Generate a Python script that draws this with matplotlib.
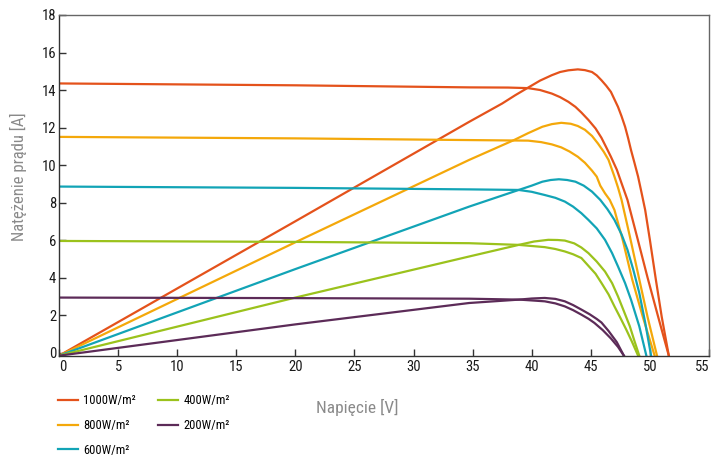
import matplotlib
matplotlib.use("Agg")
import matplotlib.pyplot as plt

plt.rcParams['font.family'] = ['Roboto Condensed', 'Liberation Sans Narrow', 'DejaVu Sans']
plt.rcParams['font.stretch'] = 'condensed'

# irradiance levels and their colours
labels = ["1000W/m²", "800W/m²", "600W/m²", "400W/m²", "200W/m²"]
colors = ["#E4521B", "#F4A80A", "#12A4B6", "#9BC21C", "#5C2B58"]

# current-voltage curves (V, A)
iv_v_1000 = [0, 20, 34.7, 38.0, 39.7, 40.7, 41.7, 42.4, 43.1, 43.7, 44.2, 44.8, 45.4, 45.9, 46.3, 46.7,
             47.2, 47.6, 48.1, 48.9, 49.8, 50.7, 51.6]
iv_i_1000 = [14.35, 14.25, 14.14, 14.13, 14.1, 14.0, 13.81, 13.62, 13.37, 13.1, 12.8, 12.4, 11.95, 11.45,
             10.95, 10.44, 9.75, 9.03, 8.14, 6.2, 4.0, 1.9, -0.17]
iv_v_800 = [0, 20, 34.7, 39.7, 40.8, 41.7, 42.5, 43.2, 43.9, 44.5, 45.1, 45.5, 45.8, 46.2, 46.6, 47.0,
            47.7, 48.5, 49.4, 50.4]
iv_i_800 = [11.5, 11.42, 11.33, 11.3, 11.22, 11.1, 10.94, 10.72, 10.44, 10.12, 9.7, 9.38, 8.9, 8.49, 8.14,
            7.6, 6.0, 3.9, 1.9, -0.17]
iv_v_600 = [0, 20, 34.7, 38.9, 40.0, 41.1, 42.0, 42.8, 43.5, 44.2, 44.8, 45.5, 46.2, 46.8, 47.3, 47.9,
            48.4, 49.1, 49.7]
iv_i_600 = [8.85, 8.78, 8.7, 8.67, 8.57, 8.4, 8.25, 8.05, 7.78, 7.43, 7.07, 6.62, 6.01, 5.3, 4.59, 3.7,
            2.82, 1.4, -0.17]
iv_v_400 = [0, 20, 34.7, 38.9, 41.1, 42.0, 42.8, 43.5, 44.2, 44.8, 45.4, 45.9, 46.5, 47.0, 47.5, 48.0,
            48.5, 49.0]
iv_i_400 = [5.95, 5.9, 5.83, 5.74, 5.62, 5.52, 5.39, 5.24, 5.04, 4.62, 4.2, 3.71, 3.1, 2.46, 1.85, 1.22,
            0.55, -0.17]
iv_v_200 = [0, 20, 34.7, 39.0, 41.1, 42.0, 42.8, 43.5, 44.2, 44.8, 45.3, 46.0, 46.7, 47.3, 47.8]
iv_i_200 = [2.93, 2.9, 2.87, 2.82, 2.73, 2.62, 2.46, 2.26, 2.02, 1.8, 1.58, 1.2, 0.75, 0.3, -0.17]

# power curves drawn on the same scale
pv_v_1000 = [0, 20, 34.7, 37.5, 38.6, 39.7, 40.7, 41.7, 42.4, 43.1, 43.9, 44.5, 45.1, 45.5, 45.9, 46.3,
             46.7, 47.0, 47.3, 47.6, 47.9, 48.15, 48.4, 48.7, 49.0, 49.3, 49.6, 50.0, 50.5, 51.0, 51.6]
pv_p_1000 = [-0.17, 7.0, 12.3, 13.28, 13.72, 14.13, 14.5, 14.79, 14.96, 15.05, 15.1, 15.06, 14.96, 14.78,
             14.52, 14.23, 13.9, 13.5, 13.1, 12.6, 12.04, 11.45, 10.8, 10.1, 9.38, 8.5, 7.6, 6.0, 3.9,
             1.9, -0.17]
pv_v_800 = [0, 20, 34.7, 38.5, 39.7, 40.9, 41.7, 42.5, 43.3, 43.9, 44.5, 45.1, 45.6, 46.1, 46.5, 47.0,
            47.3, 47.6, 48.3, 49.1, 49.8, 50.6]
pv_p_800 = [-0.17, 5.88, 10.27, 11.33, 11.7, 12.04, 12.18, 12.25, 12.2, 12.08, 11.88, 11.55, 11.15, 10.7,
            10.27, 9.38, 8.8, 8.14, 6.2, 3.9, 1.9, -0.17]
pv_v_600 = [0, 20, 34.7, 38.9, 40.0, 40.9, 41.6, 42.3, 43.0, 43.7, 44.4, 45.1, 45.8, 46.4, 47.0, 47.6,
            48.1, 48.6, 49.1, 49.6, 50.1]
pv_p_600 = [-0.17, 4.45, 7.78, 8.67, 8.9, 9.11, 9.2, 9.24, 9.2, 9.11, 8.9, 8.58, 8.14, 7.65, 7.07, 6.3,
            5.48, 4.4, 3.18, 1.6, -0.17]
pv_v_400 = [0, 20, 34.7, 38.9, 40.2, 41.4, 42.2, 42.8, 43.6, 44.2, 44.8, 45.5, 46.2, 46.8, 47.3, 47.8,
            48.3, 48.7, 49.1]
pv_p_400 = [-0.17, 2.93, 5.12, 5.74, 5.92, 6.01, 6.0, 5.97, 5.82, 5.6, 5.3, 4.85, 4.32, 3.7, 2.99, 2.2,
            1.4, 0.6, -0.17]
pv_v_200 = [0, 20, 34.7, 38.9, 40.0, 41.1, 42.0, 42.8, 43.5, 44.2, 44.9, 45.5, 45.9, 46.5, 47.2, 47.8]
pv_p_200 = [-0.17, 1.5, 2.64, 2.82, 2.88, 2.91, 2.86, 2.73, 2.53, 2.29, 2.04, 1.79, 1.6, 1.15, 0.55, -0.17]

iv_v = [iv_v_1000, iv_v_800, iv_v_600, iv_v_400, iv_v_200]
iv_i = [iv_i_1000, iv_i_800, iv_i_600, iv_i_400, iv_i_200]
pv_v = [pv_v_1000, pv_v_800, pv_v_600, pv_v_400, pv_v_200]
pv_p = [pv_p_1000, pv_p_800, pv_p_600, pv_p_400, pv_p_200]

fig = plt.figure(figsize=(7.11, 4.58), dpi=100)
ax = fig.add_axes([59/711, 1-355.7/458, (709-59)/711, (355.7-15)/458])

lines = []
for k in range(len(labels)):
    l, = ax.plot(iv_v[k], iv_i[k], color=colors[k], lw=1.6, solid_joinstyle='round', label=labels[k])
    ax.plot(pv_v[k], pv_p[k], color=colors[k], lw=1.6, solid_joinstyle='round')
    lines.append(l)

ax.set_xlim(0, 55)
ax.set_ylim(-0.17, 18)
ax.set_xticks(range(0, 56, 5))
ax.set_yticks(range(0, 19, 2))
ax.tick_params(direction='in', length=5, width=1, color='#333333', labelsize=10.5,
               labelcolor='#1a1a1a', pad=3)
ax.tick_params(axis='y', pad=2)
# first and last x labels sit inside the frame, like in the original
xl = ax.get_xticklabels()
xl[0].set_horizontalalignment('left')
xl[-1].set_horizontalalignment('right')
for s in ['left', 'bottom']:
    ax.spines[s].set_color('#333333')
    ax.spines[s].set_linewidth(1.0)
for s in ['top', 'right']:
    ax.spines[s].set_color('#666666')
    ax.spines[s].set_linewidth(1.0)

fig.text(18/711, 1-177/458, "Natężenie prądu [A]", rotation=90, ha='center', va='center',
         fontsize=12, color='#8a8a8a')
fig.text(357/711, 1-407/458, "Napięcie [V]", ha='center', va='center',
         fontsize=12.5, color='#8a8a8a')

fig.legend(handles=lines, loc='upper left', bbox_to_anchor=(58/711, 1-394/458), ncol=2,
           frameon=False, fontsize=9, handlelength=1.6, handletextpad=0.4,
           labelspacing=0.95, columnspacing=1.8, borderpad=0, borderaxespad=0)

plt.savefig("out.png", dpi=100)
